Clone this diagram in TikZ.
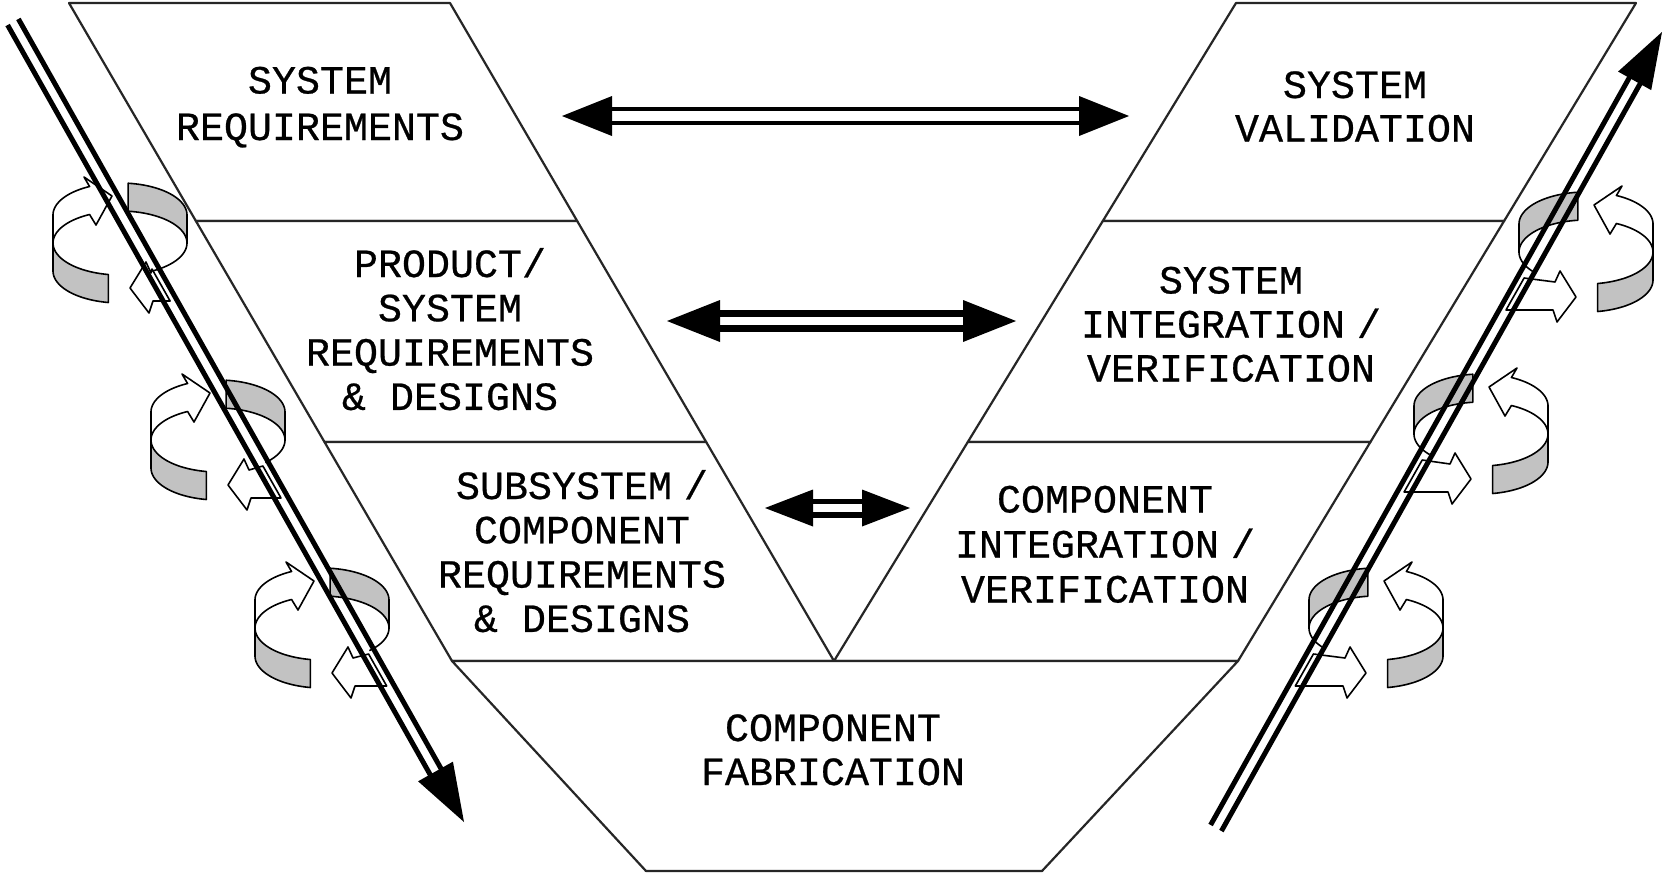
\documentclass[tikz,border=0pt]{standalone}
\usepackage{fontspec}
\newfontfamily\lblfont[FakeBold=0.6]{Liberation Mono}
\usetikzlibrary{calc}

\tikzset{
  panel/.style={fill=white, draw=black!85, line width=2.2pt, line join=round},
  lbl/.style={font=\lblfont, inner sep=0pt, anchor=base},
  ringwhite/.style={fill=white, draw=black, line width=1.6pt, line join=round},
  ringgray/.style={fill=black!24, draw=black, line width=1.6pt, line join=round},
  ringline/.style={draw=black, line width=1.6pt},
}

% centred block of label lines, first baseline on the node's base
\newcommand\lblstack[2][44.5]{{\fontsize{40}{#1}\selectfont\begin{tabular}[t]{@{}c@{}}#2\end{tabular}}}
\newcommand\spsl{\hspace{0.3em}/}

% horizontal double-shaft arrow with solid heads at both ends
% #1 left end, #2 right end, #3 line width, #4 half gap, #5 head length, #6 head half width
\newcommand\hdouble[6]{%
  \fill (#1) -- ++(#5,#6) -- ++(0,{-2*(#6)}) -- cycle;
  \fill (#2) -- ++(-#5,#6) -- ++(0,{-2*(#6)}) -- cycle;
  \draw[line width=#3] ($(#1)+(#5-1,#4)$) -- ($(#2)+(-#5+1,#4)$);
  \draw[line width=#3] ($(#1)+(#5-1,-#4)$) -- ($(#2)+(-#5+1,-#4)$);}

% slanted double-shaft arrow: #1 tail, #2 tip, #3 line width, #4 half gap, #5 head length, #6 head half width
\newcommand\ddouble[6]{%
  \coordinate (hb) at ($(#2)!#5pt!(#1)$);
  \coordinate (hs) at ($(#2)!#5pt-3pt!(#1)$);
  \fill (#2) -- ($(hb)!#6pt!90:(#2)$) -- ($(hb)!#6pt!-90:(#2)$) -- cycle;
  \draw[line width=#3] ($(#1)!#4pt!90:(#2)$) -- ($(hs)!#4pt!-90:(#1)$);
  \draw[line width=#3] ($(#1)!#4pt!-90:(#2)$) -- ($(hs)!#4pt!90:(#1)$);}

% twisted ribbon turning round a shaft
% #1,#2 centre, #3 mirror (1 or -1), #4 shaft offset, #5 end angle of the front rim
\newcommand\ringicon[5]{%
\begin{scope}[shift={(#1,#2)}, xscale=#3]
  % back band, inner face
  \path[ringgray] plot[domain=83:0, samples=25] ({67*cos(\x)},{-32*sin(\x)-28})
     -- plot[domain=0:83, samples=25] ({67*cos(\x)},{-32*sin(\x)}) -- cycle;
  % back band with its arrowhead
  \path[ringwhite] plot[domain=180:117, samples=25] ({67*cos(\x)},{-32*sin(\x)-28})
     -- (-36,-66) -- (-8,-47) -- (-24,-18)
     -- plot[domain=117:180, samples=25] ({67*cos(\x)},{-32*sin(\x)}) -- cycle;
  % front tail
  \path[ringgray] plot[domain=180:260, samples=25] ({67*cos(\x)},{-32*sin(\x)})
     -- plot[domain=260:180, samples=25] ({67*cos(\x)},{-32*sin(\x)+28}) -- cycle;
  % front rim
  \path[ringline] plot[domain=0:#5, samples=20] ({67*cos(\x)},{-32*sin(\x)});
  % front arrowhead
  \path[ringwhite] ({#4+14.6},26) -- (31,30) -- (26,19) -- (10,45) -- (29,70)
     -- (33,58) -- ({#4+32.7},58) -- cycle;
\end{scope}}

\begin{document}
\begin{tikzpicture}[x=1pt,y=-1pt]
\useasboundingbox (0,0) rectangle (1666,876);
\fill[white] (0,0) rectangle (1666,876);

% left branch
\path[panel] (69,3) -- (450,3) -- (577.2,221) -- (195.9,221) -- cycle;
\path[panel] (195.9,221) -- (577.2,221) -- (706.2,442) -- (324.5,442) -- cycle;
\path[panel] (324.5,442) -- (706.2,442) -- (834,661) -- (452,661) -- cycle;
% right branch
\path[panel] (1236,3) -- (1636,3) -- (1504.1,221) -- (1102.8,221) -- cycle;
\path[panel] (1102.8,221) -- (1504.1,221) -- (1370.4,442) -- (967.8,442) -- cycle;
\path[panel] (967.8,442) -- (1370.4,442) -- (1238,661) -- (834,661) -- cycle;
% base
\path[panel] (452,661) -- (1238,661) -- (1042,871) -- (646,871) -- cycle;

% labels
\node[lbl] (sysreq) at (320,93.5) {\lblstack[46.5]{SYSTEM\\REQUIREMENTS}};
\node[lbl] (prodreq) at (450,277) {\lblstack[44.3]{PRODUCT/\\SYSTEM\\REQUIREMENTS\\\& DESIGNS}};
\node[lbl] (subreq) at (582,499) {\lblstack[44.3]{SUBSYSTEM\spsl\\COMPONENT\\REQUIREMENTS\\\& DESIGNS}};
\node[lbl] (sysval) at (1355,98) {\lblstack[43.5]{SYSTEM\\VALIDATION}};
\node[lbl] (sysint) at (1231,293.5) {\lblstack[44]{SYSTEM\\INTEGRATION\spsl\\VERIFICATION}};
\node[lbl] (compint) at (1105,512.5) {\lblstack[45]{COMPONENT\\INTEGRATION\spsl\\VERIFICATION}};
\node[lbl] (compfab) at (833,741) {\lblstack[44]{COMPONENT\\FABRICATION}};

% correspondence arrows
\coordinate (h1l) at (562,116);  \coordinate (h1r) at (1129,116);
\coordinate (h2l) at (667,321);  \coordinate (h2r) at (1016,321);
\coordinate (h3l) at (765,508);  \coordinate (h3r) at (910,508);
\hdouble{h1l}{h1r}{4.4}{7.2}{50}{20}
\hdouble{h2l}{h2r}{7}{7.5}{53}{21}
\hdouble{h3l}{h3r}{5.8}{6.6}{48}{18.5}

% iteration loops
\ringicon{120}{243}{1}{17.4}{-62}
\ringicon{218}{440}{1}{30.3}{-45}
\ringicon{322}{628}{1}{32}{-45}
\ringicon{1586}{252}{-1}{47.3}{-40}
\ringicon{1481}{434}{-1}{44.2}{-40}
\ringicon{1376}{628}{-1}{48}{-40}

% decomposition and integration arrows
\coordinate (vdtail) at (13,22);    \coordinate (vdtip) at (464,822);
\coordinate (vutail) at (1216,828); \coordinate (vutip) at (1662,32);
\ddouble{vdtail}{vdtip}{5}{6.2}{58}{20}
\ddouble{vutail}{vutip}{5}{6.2}{56}{19}
\end{tikzpicture}
\end{document}
